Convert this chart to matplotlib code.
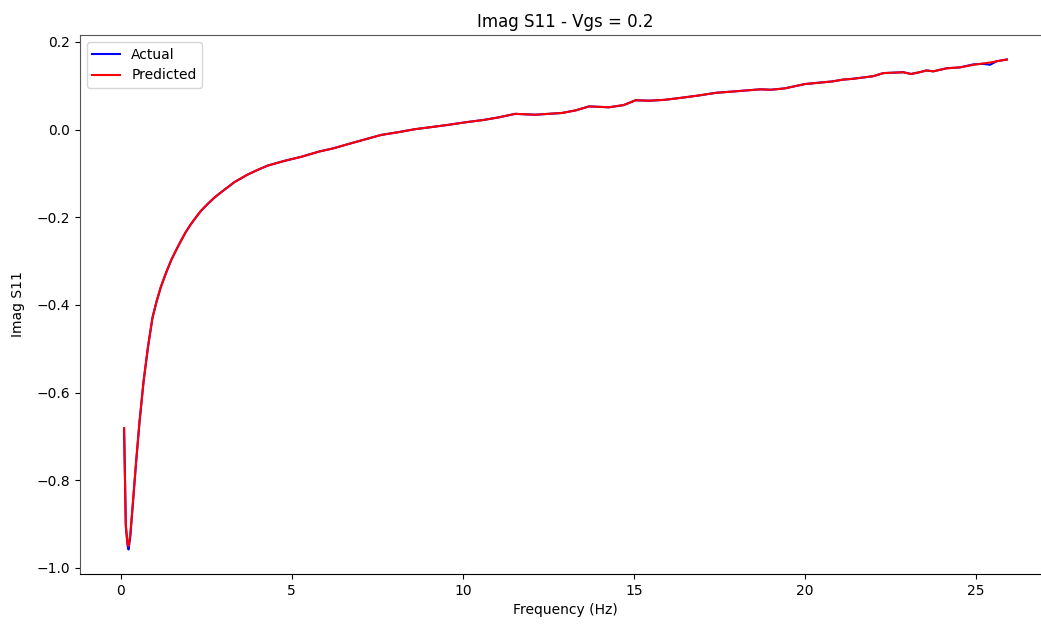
import matplotlib
matplotlib.use("Agg")
import matplotlib.pyplot as plt

# values
freq = [0.10, 0.15, 0.20, 0.23, 0.28, 0.35, 0.45, 0.55, 0.67, 0.80, 0.93,
        1.05, 1.17, 1.32, 1.47, 1.62, 1.76, 1.90, 2.05, 2.20, 2.35, 2.55,
        2.74, 3.00, 3.32, 3.70, 4.00, 4.30, 4.80, 5.28, 5.80, 6.20, 6.74,
        7.20, 7.62, 8.10, 8.60, 9.10, 9.58, 10.10, 10.60, 11.05, 11.53,
        12.12, 12.50, 12.90, 13.30, 13.69, 14.27, 14.70, 15.05, 15.45,
        15.90, 16.42, 16.90, 17.40, 17.90, 18.38, 18.70, 19.00, 19.40,
        19.70, 20.00, 20.40, 20.80, 21.10, 21.40, 21.70, 22.00, 22.29,
        22.60, 22.87, 23.10, 23.35, 23.55, 23.75, 24.14, 24.53, 24.93,
        25.20, 25.41, 25.60, 25.90]

actual = [-0.681, -0.905, -0.948, -0.958, -0.930, -0.860, -0.760, -0.668,
          -0.574, -0.495, -0.429, -0.392, -0.360, -0.328, -0.299, -0.275,
          -0.254, -0.234, -0.216, -0.200, -0.185, -0.169, -0.155, -0.139,
          -0.120, -0.103, -0.092, -0.082, -0.071, -0.062, -0.050, -0.043,
          -0.031, -0.021, -0.012, -0.006, 0.001, 0.006, 0.011, 0.017,
          0.022, 0.028, 0.036, 0.034, 0.036, 0.038, 0.044, 0.053, 0.051,
          0.056, 0.067, 0.066, 0.068, 0.073, 0.078, 0.084, 0.087, 0.090,
          0.092, 0.091, 0.094, 0.099, 0.104, 0.107, 0.110, 0.114, 0.116,
          0.119, 0.122, 0.129, 0.130, 0.131, 0.127, 0.131, 0.135, 0.133,
          0.140, 0.142, 0.149, 0.150, 0.148, 0.156, 0.160]

predicted = [-0.681, -0.900, -0.943, -0.950, -0.925, -0.858, -0.759, -0.667,
             -0.574, -0.495, -0.429, -0.392, -0.360, -0.328, -0.299, -0.275,
             -0.254, -0.234, -0.216, -0.200, -0.185, -0.169, -0.155, -0.139,
             -0.120, -0.103, -0.092, -0.082, -0.071, -0.062, -0.050, -0.043,
             -0.031, -0.021, -0.012, -0.006, 0.001, 0.006, 0.011, 0.017,
             0.022, 0.028, 0.036, 0.034, 0.036, 0.038, 0.044, 0.053, 0.051,
             0.056, 0.067, 0.066, 0.068, 0.073, 0.078, 0.084, 0.087, 0.090,
             0.092, 0.091, 0.094, 0.099, 0.104, 0.107, 0.110, 0.114, 0.116,
             0.119, 0.122, 0.129, 0.130, 0.131, 0.127, 0.131, 0.135, 0.133,
             0.140, 0.142, 0.148, 0.151, 0.153, 0.156, 0.160]

fig = plt.figure(figsize=(10.41, 6.24), dpi=100)
# axes run past the right edge, like the cropped screenshot
ax = fig.add_axes([0.0768, 0.0801, 0.9328, 0.8638])

ax.plot(freq, actual, color="blue", label="Actual")
ax.plot(freq, predicted, color="red", label="Predicted")

ax.set_title("Imag S11 - Vgs = 0.2")
ax.set_xlabel("Frequency (Hz)")
ax.set_ylabel("Imag S11", labelpad=8)
ax.legend(loc="upper left")

ax.spines["top"].set_color("#555555")
ax.spines["left"].set_color("#555555")

fig.savefig("out.png", dpi=100)
